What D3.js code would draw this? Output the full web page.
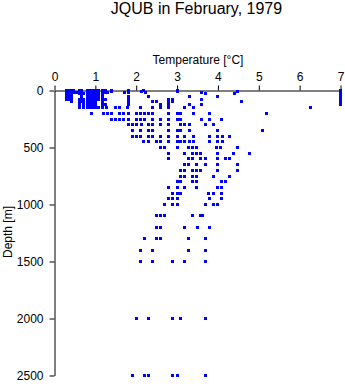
<!DOCTYPE html>
<html><head><meta charset="utf-8">
<script src="https://cdn.jsdelivr.net/npm/d3@7"></script>
<style>html,body{margin:0;padding:0;background:#fff;}svg{display:block;font-family:"Liberation Sans",Arial,sans-serif;}</style>
</head><body>
<script>
const title = "JQUB in February, 1979";
const xLabel = "Temperature [°C]";
const yLabel = "Depth [m]";
const xTicks = [0,1,2,3,4,5,6,7];
const yTicks = [0,500,1000,1500,2000,2500];

// depth levels (m) and the temperatures (°C) observed at each level
const depthLevels = [0,10,20,30,50,75,100,125,150,200,250,300,350,400,450,500,550,600,650,700,750,800,850,900,950,1000,1100,1200,1300,1400,1500,2000,2500];
const t0    = [0.29,0.35,0.41,0.47,0.60,0.66,0.80,0.88,0.92,1.0,1.08,1.18,1.25,1.39,1.80,2.17,3.0,7.0];
const t10   = [0.29,0.35,0.41,0.47,0.60,0.66,0.80,0.88,0.92,1.0,1.08,1.18,1.25,1.39,2.14,3.0,4.49,7.0];
const t20   = [0.29,0.35,0.41,0.47,0.53,0.60,0.66,0.80,0.88,0.92,1.0,1.08,1.18,1.25,1.30,1.71,1.80,2.22,3.60,7.0];
const t30   = [0.29,0.35,0.41,0.60,0.66,0.70,0.80,0.88,0.92,1.0,1.08,1.18,3.70,4.40,7.0];
const t50   = [0.29,0.35,0.41,0.66,0.80,0.88,0.92,1.0,1.08,1.18,1.80,2.30,3.30,4.0,7.0];
const t75   = [0.29,0.35,0.41,0.60,0.66,0.72,0.80,0.88,0.92,1.0,1.08,1.18,1.25,1.80,2.79,2.88,3.60,7.0];
const t100  = [0.41,0.60,0.66,0.72,0.80,0.88,0.92,1.0,1.18,1.80,2.41,2.50,2.79,2.88,4.58,7.0];
const t125  = [0.60,0.72,0.80,0.88,0.92,1.0,1.18,1.25,1.80,2.60,2.79,3.30,3.60,7.0];
const t150  = [0.60,0.72,0.80,0.88,0.92,1.0,1.08,1.18,1.27,1.49,1.60,1.78,2.10,2.41,2.60,2.79,3.19,3.39,6.27];
const t200  = [0.91,1.19,1.29,1.39,1.58,1.70,1.80,2.0,2.10,2.20,2.30,2.41,2.79,3.0,3.09,3.39,3.79,5.19];
const t250  = [1.39,1.49,1.60,1.70,1.80,2.0,2.10,2.20,2.41,2.60,2.79,3.0,3.09,3.60,3.79,4.09];
const t300  = [1.80,1.90,2.0,2.14,2.30,2.41,2.60,2.79,3.09,3.19,3.30,3.70,3.90];
const t350  = [1.90,2.10,2.30,2.41,2.79,3.0,3.09,3.30,4.0,5.08];
const t400  = [1.90,2.0,2.10,2.30,2.41,2.60,2.79,3.0,3.19,3.39,3.79,4.0,4.10,4.29];
const t450  = [2.19,2.29,2.50,2.60,2.79,3.0,3.09,3.19,3.30,3.39,3.79,4.0,4.10];
const t500  = [2.60,2.70,3.0,3.29,3.38,3.48,3.97,4.07,4.49];
const t550  = [2.80,3.19,3.38,3.48,3.58,3.99,4.39,4.78];
const t600  = [2.80,3.29,3.38,3.58,3.70,3.99,4.19,4.29];
const t650  = [3.19,3.29,3.48,3.70,3.99,4.49];
const t700  = [3.09,3.19,3.38,3.48,3.58,3.99,4.49];
const t750  = [3.09,3.19,3.38,3.48,3.89,4.29];
const t800  = [3.0,3.09,3.38,3.48,4.09,4.19];
const t850  = [2.80,3.0,3.19,3.48,3.99,4.09];
const t900  = [2.90,3.0,3.09,3.78,3.89,4.09];
const t950  = [2.80,2.90,3.0,3.79,4.09];
const t1000 = [2.70,2.90,3.0,3.70,3.89,3.99];
const t1100 = [2.50,2.60,2.70,3.38,3.58,3.62];
const t1200 = [2.50,2.60,3.19,3.50,3.79];
const t1300 = [2.20,2.50,2.60,3.29,3.70];
const t1400 = [2.11,2.41,3.29,3.70];
const t1500 = [2.10,2.41,2.90,3.19,3.70];
const t2000 = [2.0,2.31,2.90,3.09,3.69];
const t2500 = [1.90,2.20,2.31,2.90,3.0,3.69];
const tempsByLevel = [t0,t10,t20,t30,t50,t75,t100,t125,t150,t200,t250,t300,t350,t400,t450,t500,t550,t600,t650,t700,t750,t800,t850,t900,t950,t1000,t1100,t1200,t1300,t1400,t1500,t2000,t2500];

const points = [];
depthLevels.forEach((d,i)=>tempsByLevel[i].forEach(t=>points.push({t:t,d:d})));

const W=345,H=384;
const svg=d3.select("body").append("svg").attr("width",W).attr("height",H);
const x=d3.scaleLinear().domain([0,7]).range([54,340]);
const y=d3.scaleLinear().domain([0,2500]).range([90,375]);

svg.append("text").attr("x",196.5).attr("y",14).attr("text-anchor","middle")
  .attr("font-size",16).attr("fill","#000").text(title);
svg.append("text").attr("x",198).attr("y",64).attr("text-anchor","middle")
  .attr("font-size",12).attr("fill","#000").text(xLabel);
svg.append("text").attr("transform","translate(12,232) rotate(-90)").attr("text-anchor","middle")
  .attr("font-size",12).attr("fill","#000").text(yLabel);

const gx=svg.append("g").attr("transform","translate(0.5,90.5)")
  .call(d3.axisTop(x).tickValues(xTicks).tickFormat(d3.format("d")).tickSize(5).tickSizeOuter(0).tickPadding(5));
const gy=svg.append("g").attr("transform","translate(54.5,0.5)")
  .call(d3.axisLeft(y).tickValues(yTicks).tickFormat(d3.format("d")).tickSize(5).tickSizeOuter(0).tickPadding(6));
[gx,gy].forEach(g=>{
  g.selectAll("text").attr("font-size",12).attr("font-family","Liberation Sans, Arial, sans-serif").attr("fill","#000");
  g.selectAll("line,path").attr("stroke","#000").attr("stroke-width",1);
});

svg.append("g").selectAll("rect").data(points).join("rect")
  .attr("x",p=>Math.round(x(p.t))-1).attr("y",p=>Math.round(y(p.d))-1)
  .attr("width",3).attr("height",3).attr("fill","#0000ff");
</script>
</body></html>
